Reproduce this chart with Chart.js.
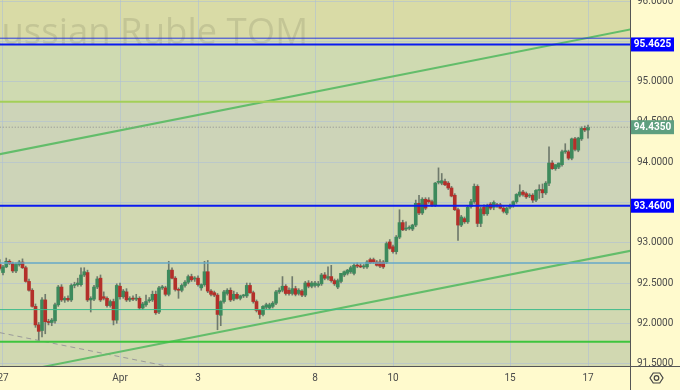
<!DOCTYPE html>
<html>
<head>
<meta charset="utf-8">
<script src="https://cdn.jsdelivr.net/npm/chart.js@4.4.1/dist/chart.umd.min.js"></script>
<style>
  html, body { margin: 0; padding: 0; background: #fffacd; }
</style>
</head>
<body>
<canvas id="graphique" width="680" height="390"></canvas>
<script>
// Données : bougies horaires Russian Ruble TOM  [open, high, low, close]
const premierIndex = -1;
const bougies = [
  [92.73,92.79,92.66,92.68], [92.63,92.72,92.60,92.70], [92.70,92.81,92.69,92.77], [92.77,92.79,92.73,92.74],
  [92.74,92.76,92.63,92.65], [92.65,92.75,92.63,92.73], [92.73,92.78,92.71,92.76], [92.76,92.80,92.68,92.69],
  [92.69,92.71,92.51,92.52], [92.52,92.55,92.40,92.41], [92.41,92.43,92.20,92.21], [92.21,92.24,91.95,91.98],
  [91.98,92.01,91.78,91.90], [91.91,92.32,91.83,92.29], [92.29,92.36,91.87,92.02], [92.02,92.05,91.98,92.01],
  [92.01,92.06,91.97,92.04], [92.03,92.25,92.00,92.23], [92.23,92.47,92.21,92.45], [92.45,92.48,92.27,92.29],
  [92.29,92.33,92.26,92.31], [92.31,92.34,92.27,92.29], [92.29,92.49,92.27,92.47], [92.47,92.51,92.44,92.48],
  [92.48,92.56,92.46,92.50], [92.48,92.69,92.46,92.60], [92.60,92.69,92.58,92.64], [92.63,92.66,92.27,92.29],
  [92.29,92.33,92.14,92.31], [92.30,92.47,92.28,92.45], [92.45,92.58,92.43,92.55], [92.56,92.60,92.27,92.29],
  [92.33,92.39,92.29,92.31], [92.31,92.33,92.20,92.22], [92.22,92.29,92.20,92.27], [92.27,92.30,91.98,92.04],
  [92.04,92.49,92.00,92.47], [92.46,92.50,92.30,92.33], [92.33,92.42,92.31,92.40], [92.39,92.43,92.27,92.29],
  [92.29,92.33,92.27,92.31], [92.31,92.34,92.28,92.30], [92.30,92.36,92.28,92.31], [92.31,92.33,92.17,92.19],
  [92.19,92.26,92.17,92.24], [92.23,92.35,92.21,92.27], [92.28,92.32,92.26,92.29], [92.29,92.40,92.27,92.36],
  [92.36,92.40,92.11,92.13], [92.14,92.46,92.12,92.44], [92.44,92.47,92.42,92.44], [92.44,92.46,92.34,92.36],
  [92.36,92.77,92.34,92.66], [92.66,92.69,92.55,92.56], [92.56,92.58,92.40,92.42], [92.42,92.44,92.31,92.41],
  [92.41,92.49,92.39,92.47], [92.47,92.53,92.45,92.51], [92.51,92.60,92.49,92.58], [92.58,92.61,92.52,92.54],
  [92.55,92.58,92.52,92.56], [92.56,92.59,92.46,92.48], [92.44,92.49,92.41,92.48], [92.48,92.77,92.46,92.64],
  [92.64,92.78,92.38,92.40], [92.40,92.42,92.34,92.36], [92.38,92.40,92.33,92.35], [92.35,92.37,91.92,92.11],
  [92.10,92.28,91.97,92.27], [92.27,92.41,92.25,92.39], [92.37,92.43,92.35,92.41], [92.41,92.44,92.27,92.29],
  [92.30,92.40,92.28,92.36], [92.36,92.38,92.30,92.31], [92.31,92.35,92.29,92.34], [92.34,92.36,92.32,92.34],
  [92.34,92.50,92.32,92.47], [92.47,92.50,92.37,92.38], [92.38,92.40,92.25,92.27], [92.27,92.29,92.14,92.16],
  [92.16,92.17,92.06,92.11], [92.11,92.22,92.09,92.21], [92.20,92.25,92.18,92.23], [92.19,92.25,92.17,92.23],
  [92.21,92.27,92.19,92.25], [92.25,92.41,92.23,92.39], [92.39,92.44,92.37,92.41], [92.41,92.58,92.39,92.46],
  [92.46,92.48,92.35,92.37], [92.41,92.44,92.35,92.37], [92.37,92.58,92.35,92.43], [92.43,92.46,92.34,92.36],
  [92.37,92.43,92.35,92.41], [92.40,92.42,92.33,92.35], [92.35,92.52,92.33,92.50], [92.50,92.53,92.44,92.46],
  [92.46,92.52,92.44,92.50], [92.47,92.52,92.45,92.50], [92.47,92.52,92.45,92.49], [92.49,92.62,92.47,92.60],
  [92.60,92.63,92.54,92.56], [92.56,92.70,92.54,92.58], [92.58,92.72,92.51,92.53], [92.53,92.55,92.47,92.49],
  [92.45,92.55,92.43,92.53], [92.52,92.62,92.50,92.62], [92.60,92.65,92.58,92.64], [92.62,92.67,92.60,92.66],
  [92.64,92.71,92.62,92.69], [92.62,92.74,92.60,92.72], [92.72,92.75,92.69,92.71], [92.71,92.74,92.69,92.70],
  [92.70,92.73,92.68,92.71], [92.70,92.78,92.68,92.76], [92.79,92.81,92.74,92.75], [92.79,92.81,92.74,92.76],
  [92.76,92.78,92.71,92.72], [92.76,92.79,92.69,92.71], [92.76,92.78,92.68,92.70], [92.76,93.01,92.74,92.99],
  [93.01,93.04,92.92,92.93], [92.95,92.97,92.87,92.89], [92.89,93.09,92.86,93.07], [93.07,93.41,93.05,93.25],
  [93.25,93.28,93.15,93.16], [93.17,93.26,93.15,93.18], [93.18,93.21,93.16,93.18], [93.17,93.23,93.15,93.22],
  [93.22,93.53,93.20,93.49], [93.49,93.59,93.35,93.37], [93.37,93.56,93.35,93.54], [93.54,93.56,93.41,93.43],
  [93.53,93.56,93.49,93.51], [93.51,93.53,93.45,93.47], [93.47,93.75,93.45,93.74], [93.75,93.93,93.73,93.76],
  [93.74,93.86,93.72,93.77], [93.76,93.79,93.71,93.72], [93.74,93.76,93.66,93.68], [93.68,93.70,93.57,93.58],
  [93.59,93.61,93.40,93.41], [93.41,93.43,93.03,93.22], [93.22,93.34,93.20,93.32], [93.30,93.32,93.24,93.26],
  [93.26,93.46,93.24,93.44], [93.45,93.54,93.43,93.51], [93.51,93.73,93.49,93.70], [93.70,93.72,93.20,93.24],
  [93.24,93.44,93.20,93.42], [93.44,93.47,93.34,93.36], [93.36,93.48,93.34,93.46], [93.48,93.50,93.41,93.43],
  [93.44,93.52,93.41,93.50], [93.47,93.49,93.44,93.46], [93.47,93.49,93.42,93.43], [93.43,93.45,93.37,93.39],
  [93.37,93.44,93.35,93.43], [93.44,93.48,93.42,93.46], [93.46,93.52,93.44,93.51], [93.51,93.61,93.49,93.60],
  [93.59,93.72,93.57,93.63], [93.63,93.65,93.58,93.60], [93.61,93.63,93.55,93.57], [93.58,93.61,93.56,93.59],
  [93.59,93.61,93.50,93.53], [93.53,93.66,93.51,93.65], [93.65,93.72,93.55,93.66], [93.66,93.73,93.56,93.62],
  [93.62,93.76,93.60,93.74], [93.74,94.19,93.71,93.99], [93.99,94.02,93.91,93.92], [93.92,93.97,93.90,93.97],
  [93.94,93.99,93.92,93.99], [93.97,94.15,93.95,94.13], [94.13,94.23,94.11,94.13], [94.13,94.15,94.03,94.05],
  [94.05,94.30,94.03,94.29], [94.29,94.31,94.14,94.16], [94.15,94.31,94.13,94.30], [94.29,94.44,94.27,94.42],
  [94.42,94.45,94.38,94.40], [94.40,94.46,94.30,94.435]
];

// axe du temps (12 bougies par séance)
const jourTicks = [0, 36, 60, 96, 120, 156, 180];
const jourLabels = ['27', 'Apr', '3', '8', '10', '15', '17'];
const prixTicks = [91.5, 92, 92.5, 93, 93.5, 94, 94.5, 95, 95.5, 96];
// graduations cachées sous les étiquettes
const prixCaches = [93.5, 95.5];

// niveaux horizontaux
const niveauxBleus = [95.4625, 93.46];
const niveauFin = 95.54;
const niveauVert = 94.75;
const prixActuel = 94.435;
const niveauxBas = [92.75, 92.17, 91.77];

// lignes de tendance [[x1, y1], [x2, y2]]
const tendanceHaut = [[-1, 94.10], [193, 95.65]];
const tendanceBas = [[10, 91.44], [193, 92.90]];
const lignePointillee = [[-1, 91.884], [52, 91.455]];

// étiquettes de prix sur l'axe
const etiquettes = [95.4625, 94.4350, 93.4600];
const couleursEtiquettes = ['#0000ff', '#5e9f7f', '#0000ff'];

// zones de fond (limites en prix)
const limitesZones = [96.2, 95.54, 95.4625, 94.75, 93.46, 91.3];
const couleursZones = ['#d9dba6', '#d3dab4', '#cfdab1', '#cdd4b8', '#d1d8b1'];

var couleurHausse = '#3d8a5c';
var couleurBaisse = '#b3302a';
var couleurGrille = 'rgba(175,192,212,0.6)';
var policeAxe = { family: 'Roboto', size: 10 };

var corps = bougies.map(function(b, i) { return { x: premierIndex + i, y: [b[0], b[3]] }; });
var meches = bougies.map(function(b, i) { return { x: premierIndex + i, y: [b[2], b[1]] }; });

function couleurBougie(c) {
  var b = bougies[c.dataIndex];
  return b[3] >= b[0] ? couleurHausse : couleurBaisse;
}
function ligneH(v) { return [{ x: -1, y: v }, { x: 193, y: v }]; }
function segment(p) { return [{ x: p[0][0], y: p[0][1] }, { x: p[1][0], y: p[1][1] }]; }
function ligne(data, couleur, epaisseur, tirets) {
  return { type: 'line', data: data, borderColor: couleur, borderWidth: epaisseur,
           borderDash: tirets || [], pointRadius: 0, fill: false, order: 0 };
}
function sansMarge(axis) { axis.paddingTop = 0; axis.paddingBottom = 0; axis.paddingLeft = 0; axis.paddingRight = 0; }

// fond, zones et filigrane
var pluginFond = {
  id: 'fond',
  beforeDraw: function(chart) {
    var c = chart.ctx, a = chart.chartArea, y = chart.scales.y;
    c.save();
    c.fillStyle = '#fffacd';
    c.fillRect(0, 0, chart.width, chart.height);
    for (var i = 0; i < couleursZones.length; i++) {
      var y1 = y.getPixelForValue(limitesZones[i]);
      var y2 = y.getPixelForValue(limitesZones[i + 1]);
      c.fillStyle = couleursZones[i];
      c.fillRect(a.left, Math.max(a.top, y1), a.right - a.left, Math.min(a.bottom, y2) - Math.max(a.top, y1));
    }
    c.beginPath();
    c.rect(a.left, a.top, a.right - a.left, a.bottom - a.top);
    c.clip();
    c.font = '40px "Open Sans"';
    var taille = 40 * 188 / c.measureText('Ruble TOM').width;
    c.font = taille + 'px "Open Sans"';
    c.fillStyle = 'rgba(110,112,85,0.2)';
    c.textBaseline = 'alphabetic';
    c.textAlign = 'right';
    c.fillText('Russian Ruble TOM', 308, 44);
    c.restore();
  },
  afterDraw: function(chart) {
    var c = chart.ctx, a = chart.chartArea, y = chart.scales.y;
    c.save();
    // coin bas droit
    c.fillStyle = '#fffacd';
    c.fillRect(a.right, a.bottom, chart.width - a.right, chart.height - a.bottom);
    c.strokeStyle = '#555';
    c.lineWidth = 1;
    c.beginPath();
    c.moveTo(Math.round(a.right) + 0.5, 0);
    c.lineTo(Math.round(a.right) + 0.5, chart.height);
    c.moveTo(0, Math.round(a.bottom) + 0.5);
    c.lineTo(chart.width, Math.round(a.bottom) + 0.5);
    c.stroke();
    // étiquettes de prix
    c.font = 'bold 10px Roboto';
    c.textAlign = 'center';
    c.textBaseline = 'middle';
    etiquettes.forEach(function(v, i) {
      var py = y.getPixelForValue(v);
      c.fillStyle = couleursEtiquettes[i];
      c.fillRect(a.right + 1, py - 7, 43, 14);
      c.fillStyle = '#ffffff';
      c.fillText(v.toFixed(4), a.right + 22.5, py + 0.5);
    });
    // icône réglages
    var cx = 656.5, cy = 378;
    c.strokeStyle = '#444';
    c.lineWidth = 1.2;
    c.beginPath();
    for (var k = 0; k < 6; k++) {
      var ang = Math.PI / 3 * k;
      var px = cx + 6.5 * Math.cos(ang), pyy = cy + 5.8 * Math.sin(ang);
      if (k === 0) c.moveTo(px, pyy); else c.lineTo(px, pyy);
    }
    c.closePath();
    c.stroke();
    c.beginPath();
    c.arc(cx, cy, 2.3, 0, Math.PI * 2);
    c.stroke();
    c.restore();
  }
};

var ctx = document.getElementById('graphique').getContext('2d');
var graphique = new Chart(ctx, {
  type: 'bar',
  data: {
    datasets: [
      ligne(ligneH(niveauFin), '#2b3bdc', 1),
      ligne(ligneH(niveauxBleus[0]), '#0a1af0', 2),
      ligne(ligneH(niveauxBleus[1]), '#0a1af0', 2),
      ligne(ligneH(niveauVert), '#a3cf58', 2),
      ligne(ligneH(prixActuel), '#8c8c8c', 1, [1, 2]),
      ligne(ligneH(niveauxBas[0]), '#64a9c8', 1.5),
      ligne(ligneH(niveauxBas[1]), '#3dbb8c', 1),
      ligne(ligneH(niveauxBas[2]), '#3ec43e', 2),
      ligne(segment(tendanceHaut), '#63bd6a', 2),
      ligne(segment(tendanceBas), '#63bd6a', 2),
      ligne(segment(lignePointillee), '#9a9a9a', 1, [5, 4]),
      { type: 'bar', data: corps, backgroundColor: couleurBougie, barThickness: 3,
        minBarLength: 1, grouped: false, order: 5 },
      { type: 'bar', data: meches, backgroundColor: '#6f7a6c', barThickness: 1,
        grouped: false, order: 6 }
    ]
  },
  options: {
    responsive: false,
    animation: false,
    layout: { padding: 0 },
    plugins: { legend: { display: false }, tooltip: { enabled: false } },
    scales: {
      x: {
        type: 'linear', min: -0.923, max: 192.92, offset: false,
        grid: { color: couleurGrille, drawTicks: false, offset: false },
        border: { display: false },
        ticks: {
          autoSkip: false, maxRotation: 0, padding: 6, color: '#4a4a4a', font: policeAxe,
          callback: function(v) { var k = jourTicks.indexOf(v); return k >= 0 ? jourLabels[k] : ''; }
        },
        afterBuildTicks: function(axis) { axis.ticks = jourTicks.map(function(v) { return { value: v }; }); },
        afterFit: function(axis) { axis.height = 24; sansMarge(axis); }
      },
      y: {
        type: 'linear', position: 'right', min: 91.4696, max: 96.0145,
        grid: { color: couleurGrille, drawTicks: false },
        border: { display: false },
        ticks: {
          autoSkip: false, padding: 7, color: '#4a4a4a', font: policeAxe,
          callback: function(v) { return prixCaches.indexOf(v) >= 0 ? '' : Number(v).toFixed(4); }
        },
        afterBuildTicks: function(axis) { axis.ticks = prixTicks.map(function(v) { return { value: v }; }); },
        afterFit: function(axis) { axis.width = 50; sansMarge(axis); }
      }
    }
  },
  plugins: [pluginFond]
});
</script>
</body>
</html>
